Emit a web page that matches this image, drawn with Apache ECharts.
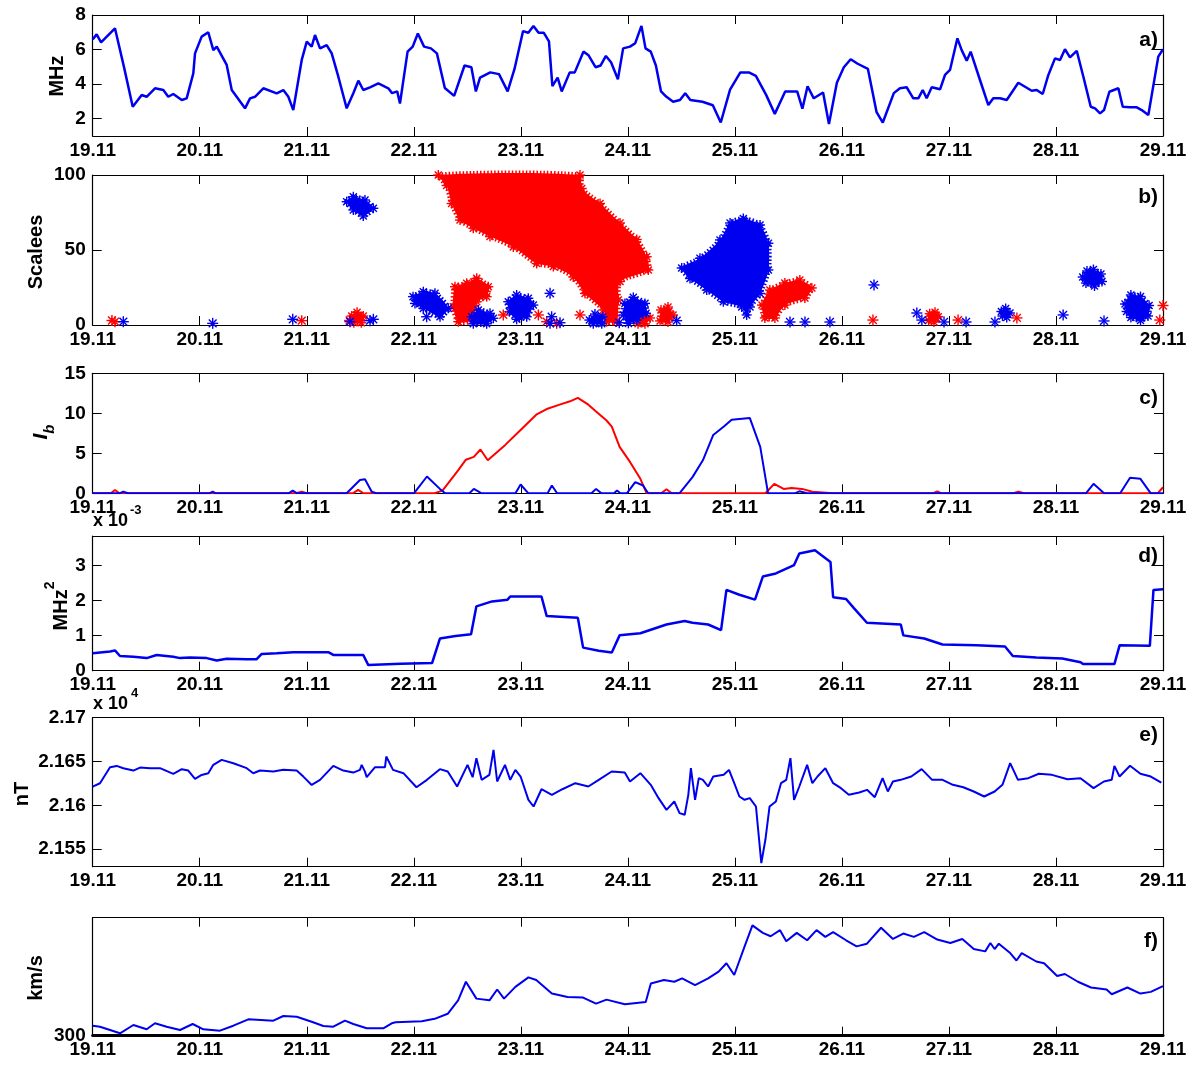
<!DOCTYPE html>
<html><head><meta charset="utf-8">
<script src="https://cdn.jsdelivr.net/npm/echarts@6/dist/echarts.min.js"></script>
<style>html,body{margin:0;padding:0;background:#fff}#c{width:1195px;height:1065px}</style>
</head><body><div id="c"></div>
<script>
// ---------- tick labels ----------
const dayLabels = ['19.11','20.11','21.11','22.11','23.11','24.11','25.11','26.11','27.11','28.11','29.11'];
const aTicks = [2,4,6,8];
const bTicks = [0,50,100];
const cTicks = [0,5,10,15];
const dTicks = [0,1,2,3];
const eTicks = [21550,21600,21650,21700];
const fTicks = [300];

// ---------- a) frequency (MHz), x = days after 19.11 ----------
const aFreq = [[0,6.59],[0.037,6.88],[0.078,6.42],[0.208,7.23],[0.292,5.0],[0.374,2.69],[0.458,3.37],[0.504,3.27],[0.582,3.76],[0.66,3.66],[0.706,3.27],[0.753,3.43],[0.832,3.08],[0.878,3.18],[0.94,4.62],[0.956,5.78],[1.018,6.75],[1.08,7.0],[1.127,5.97],[1.159,6.17],[1.252,5.11],[1.299,3.66],[1.345,3.27],[1.423,2.6],[1.47,3.18],[1.516,3.27],[1.594,3.76],[1.719,3.47],[1.781,3.66],[1.828,3.27],[1.874,2.5],[1.953,5.4],[2.0,6.46],[2.046,6.17],[2.077,6.84],[2.124,6.07],[2.186,6.26],[2.233,5.78],[2.295,4.43],[2.373,2.6],[2.435,3.47],[2.482,4.2],[2.528,3.66],[2.591,3.81],[2.669,4.04],[2.762,3.76],[2.797,3.48],[2.845,3.58],[2.871,2.88],[2.942,5.88],[2.99,6.17],[3.038,6.93],[3.096,6.17],[3.16,6.07],[3.216,5.78],[3.29,3.78],[3.377,3.32],[3.474,5.08],[3.538,4.98],[3.58,3.58],[3.619,4.38],[3.715,4.68],[3.796,4.58],[3.877,3.58],[3.941,4.88],[4.021,7.07],[4.07,6.97],[4.118,7.37],[4.166,6.97],[4.215,6.97],[4.263,6.47],[4.295,3.88],[4.344,4.38],[4.382,3.58],[4.457,4.68],[4.504,4.68],[4.585,5.88],[4.633,5.67],[4.698,4.98],[4.746,5.08],[4.795,5.63],[4.843,5.27],[4.907,4.28],[4.956,6.07],[5.02,6.17],[5.069,6.37],[5.127,7.37],[5.165,6.07],[5.214,5.88],[5.262,5.08],[5.31,3.58],[5.358,3.28],[5.423,2.98],[5.487,3.08],[5.536,3.48],[5.584,3.08],[5.697,2.98],[5.794,2.78],[5.868,1.78],[5.955,3.68],[6.051,4.68],[6.131,4.68],[6.196,4.48],[6.292,3.38],[6.373,2.28],[6.47,3.58],[6.582,3.58],[6.631,2.58],[6.679,3.88],[6.737,3.18],[6.824,3.52],[6.879,1.69],[6.953,4.08],[7.018,4.98],[7.082,5.44],[7.147,5.18],[7.243,4.88],[7.324,2.38],[7.382,1.78],[7.485,3.48],[7.542,3.76],[7.605,3.82],[7.667,3.18],[7.714,3.18],[7.755,3.66],[7.792,3.18],[7.839,3.82],[7.917,3.7],[7.963,4.53],[8.01,4.82],[8.079,6.65],[8.119,5.97],[8.166,5.36],[8.203,5.88],[8.29,4.24],[8.368,2.79],[8.414,3.18],[8.477,3.18],[8.54,3.08],[8.648,4.08],[8.711,3.85],[8.773,3.62],[8.82,3.66],[8.876,3.43],[8.929,4.53],[8.991,5.49],[9.038,5.4],[9.084,6.02],[9.131,5.55],[9.194,5.93],[9.256,4.43],[9.325,2.69],[9.365,2.6],[9.412,2.31],[9.449,2.5],[9.499,3.56],[9.583,3.76],[9.624,2.69],[9.692,2.66],[9.755,2.66],[9.801,2.5],[9.863,2.21],[9.956,5.59],[10,6.02]];

// ---------- b) scalogram regions (day, scale) ----------
const redBlobs = [
  [[3.229,100],[4.553,100],[4.569,91],[4.74,81],[4.927,68],[5.083,57],[5.176,45.5],[5.191,36.7],[4.927,29],[4.911,16.7],[4.896,2.2],[4.802,2.2],[4.771,10],[4.6,21],[4.49,32],[4.304,39],[4.148,41],[3.93,52],[3.712,59],[3.556,64.5],[3.432,70],[3.354,81],[3.307,93]],
  [[3.385,25.5],[3.494,27.8],[3.588,31.1],[3.696,25.5],[3.681,18.9],[3.588,15.5],[3.556,3.3],[3.416,2.2],[3.369,12.2]],
  [[6.253,13.3],[6.327,23.3],[6.467,28],[6.607,30],[6.719,24.7],[6.654,18],[6.467,13.3],[6.374,4.7],[6.28,4.7]],
  [[5.083,4.7],[5.142,7.3],[5.207,4.7],[5.16,0.8],[5.095,0.8]],
  [[5.31,10],[5.375,12],[5.422,6.7],[5.375,2],[5.301,2.7]],
  [[2.42,6],[2.47,8.5],[2.528,6],[2.51,1.5],[2.44,1.5]],
  [[7.82,7.5],[7.87,8.5],[7.9,5.5],[7.86,2],[7.81,3]]
];
const blueBlobs = [
  [[2.373,82.2],[2.435,85.5],[2.544,83.3],[2.622,77.8],[2.528,72.7],[2.435,76.7]],
  [[2.993,18.9],[3.089,22.2],[3.198,21.1],[3.322,11.1],[3.245,5.5],[3.089,11.1],[3.011,14.4]],
  [[3.541,5.5],[3.603,10],[3.712,7.8],[3.743,4.5],[3.681,0.8],[3.556,0.8]],
  [[3.883,15.5],[3.961,20],[4.07,17.8],[4.117,13.3],[4.055,5.5],[3.961,3.8],[3.893,8.9]],
  [[4.64,3.3],[4.693,7.3],[4.765,5.5],[4.756,0.8],[4.677,0.8]],
  [[4.973,14.4],[5.051,18.4],[5.16,14.4],[5.17,7.8],[5.083,3.3],[5.005,1.1],[4.958,6.7]],
  [[5.503,38],[5.674,44.5],[5.861,56.7],[5.955,68],[6.079,71],[6.235,66.7],[6.313,54.5],[6.313,36.7],[6.235,21],[6.141,12],[6.11,6.7],[6.064,12],[5.892,15.5],[5.737,23.3],[5.581,31]],
  [[9.25,32],[9.29,36],[9.35,37],[9.42,34],[9.43,29],[9.36,26],[9.28,28]],
  [[9.645,14],[9.7,20],[9.79,19],[9.87,13],[9.86,6],[9.79,3],[9.7,5],[9.66,9]],
  [[8.49,9],[8.53,11],[8.57,8],[8.54,5],[8.5,6]]
];
const redStars = [[0.18,3],[0.208,2.2],[1.953,2.9],[2.40,3],[3.836,6.7],[4.164,6.7],[4.242,2.2],[4.335,1.1],[4.553,6.7],[7.29,3.3],[7.88,5],[8.085,3.3],[8.635,4.7],[9.97,3.3],[10,13]];
const blueStars = [[0.286,2.2],[1.121,1.1],[1.869,3.8],[2.404,2.2],[2.591,2.9],[2.622,3.8],[3.12,5.5],[4.273,21.1],[4.288,5.5],[4.273,1.1],[4.366,1.5],[4.92,1.5],[5.456,2.9],[6.515,2],[6.655,2],[6.888,2],[7.3,26.7],[7.7,8],[7.747,3.3],[7.954,2],[8.16,2],[8.43,2],[9.067,6.7],[9.449,2.7]];

// ---------- c) I_b ----------
const cRed = [[0,0],[0.17,0],[0.208,0.42],[0.25,0],[1.9,0],[1.953,0.2],[2.0,0],[2.43,0],[2.48,0.42],[2.53,0],[3.195,0],[3.268,0.34],[3.414,2.86],[3.487,4.2],[3.561,4.55],[3.623,5.48],[3.691,4.13],[3.852,6.02],[3.998,7.92],[4.144,9.82],[4.242,10.53],[4.363,11.08],[4.46,11.5],[4.533,11.92],[4.631,11.08],[4.703,10.24],[4.801,9.1],[4.85,8.34],[4.923,5.81],[5.02,3.92],[5.117,1.81],[5.176,0],[5.312,0],[5.361,0.5],[5.41,0],[6.285,0],[6.368,1.18],[6.456,0.55],[6.529,0.67],[6.627,0.55],[6.724,0.2],[6.918,0],[7.85,0],[7.891,0.25],[7.93,0],[8.6,0],[8.65,0.2],[8.7,0],[9.95,0],[10,0.76]];
const cBlue = [[0,0],[0.25,0],[0.286,0.2],[0.33,0],[1.09,0],[1.121,0.2],[1.15,0],[1.83,0],[1.869,0.33],[1.91,0],[2.373,0],[2.497,1.67],[2.544,1.75],[2.607,0.2],[2.65,0],[3.001,0],[3.123,2.1],[3.244,0.55],[3.293,0],[3.52,0],[3.561,0.55],[3.634,0],[3.95,0],[3.998,1.1],[4.071,0],[4.25,0],[4.29,0.97],[4.339,0],[4.66,0],[4.703,0.55],[4.753,0],[4.87,0],[4.899,0.34],[4.93,0],[4.99,0],[5.069,1.39],[5.142,0.97],[5.19,0],[5.482,0],[5.604,2.02],[5.701,4.13],[5.798,7.29],[5.897,8.34],[5.97,9.18],[6.14,9.4],[6.237,5.81],[6.31,0],[6.56,0],[6.602,0.25],[6.675,0],[9.28,0],[9.351,1.18],[9.449,0],[9.6,0],[9.692,1.94],[9.789,1.81],[9.886,0],[10,0]];

// ---------- d) MHz^2 (x 10^-3) ----------
const dPower = [[0,0.5],[0.162,0.55],[0.208,0.58],[0.255,0.42],[0.38,0.40],[0.504,0.36],[0.598,0.45],[0.753,0.40],[0.816,0.36],[0.909,0.38],[1.065,0.36],[1.159,0.29],[1.252,0.34],[1.439,0.33],[1.532,0.33],[1.579,0.48],[1.719,0.5],[1.874,0.53],[2.201,0.53],[2.248,0.45],[2.528,0.45],[2.575,0.16],[2.879,0.2],[3.171,0.22],[3.244,0.92],[3.39,0.99],[3.535,1.04],[3.585,1.84],[3.731,1.98],[3.876,2.03],[3.901,2.12],[4.193,2.12],[4.242,1.56],[4.363,1.54],[4.533,1.51],[4.582,0.66],[4.728,0.57],[4.85,0.52],[4.923,1.01],[5.117,1.07],[5.361,1.32],[5.531,1.42],[5.604,1.37],[5.75,1.32],[5.871,1.16],[5.921,2.31],[6.042,2.17],[6.188,2.03],[6.261,2.69],[6.383,2.78],[6.553,3.02],[6.602,3.35],[6.748,3.44],[6.893,3.11],[6.918,2.1],[7.039,2.05],[7.112,1.79],[7.234,1.37],[7.55,1.32],[7.574,1.01],[7.769,0.92],[7.94,0.75],[8.257,0.73],[8.524,0.69],[8.597,0.42],[8.816,0.38],[9.059,0.35],[9.23,0.24],[9.253,0.19],[9.546,0.19],[9.595,0.73],[9.877,0.71],[9.911,2.31],[10,2.33]];

// ---------- e) nT ----------
const eField = [[0,21621.4],[0.068,21625.2],[0.162,21643.5],[0.224,21645],[0.286,21642.4],[0.38,21639.7],[0.442,21643.1],[0.535,21642.4],[0.629,21642.4],[0.753,21635.9],[0.832,21641.2],[0.893,21639.7],[0.956,21630.2],[1.018,21634.7],[1.08,21636.6],[1.127,21646.2],[1.205,21651.9],[1.314,21648.1],[1.439,21642.4],[1.5,21636.6],[1.563,21639.7],[1.688,21638.5],[1.781,21640.5],[1.906,21639.7],[1.968,21632.8],[2.046,21623.3],[2.124,21629],[2.248,21645],[2.341,21639.7],[2.435,21637.4],[2.497,21640.5],[2.513,21646.2],[2.544,21638.5],[2.56,21632.1],[2.638,21643.5],[2.731,21643.5],[2.743,21655.7],[2.806,21640.5],[2.903,21636.7],[3.025,21620.7],[3.123,21629.1],[3.244,21641.3],[3.317,21638.6],[3.405,21621.5],[3.502,21646.2],[3.55,21632.1],[3.585,21653.8],[3.634,21629.1],[3.706,21634.8],[3.745,21663.3],[3.779,21627.2],[3.852,21646.2],[3.901,21629.1],[3.949,21640.5],[3.998,21632.9],[4.071,21606.3],[4.119,21598.7],[4.193,21618.4],[4.29,21612],[4.388,21618.4],[4.509,21625.3],[4.631,21621.5],[4.728,21629.1],[4.849,21638.6],[4.971,21637.5],[5.02,21627.2],[5.117,21636.7],[5.214,21623.4],[5.287,21608.2],[5.361,21594.9],[5.434,21604.4],[5.483,21591.1],[5.531,21589.2],[5.565,21612],[5.589,21642.4],[5.628,21606.3],[5.663,21631],[5.701,21629.1],[5.75,21621.5],[5.798,21632.9],[5.896,21634.8],[5.945,21640.5],[5.994,21625.3],[6.042,21610.1],[6.091,21606.3],[6.139,21608.2],[6.197,21598.7],[6.247,21534],[6.285,21560.7],[6.324,21598.7],[6.383,21604.4],[6.431,21625.3],[6.48,21629.1],[6.519,21653.8],[6.553,21606.3],[6.602,21621.5],[6.675,21646.2],[6.724,21625.3],[6.772,21632.9],[6.845,21642.4],[6.918,21625.3],[6.991,21619.6],[7.065,21612],[7.162,21614.6],[7.235,21617.7],[7.307,21609.3],[7.38,21631],[7.429,21615.8],[7.477,21627.2],[7.55,21629.1],[7.648,21632.9],[7.745,21641.3],[7.843,21629.1],[7.94,21629.1],[8.037,21623.4],[8.134,21620.7],[8.232,21615.8],[8.329,21610.1],[8.427,21615.8],[8.5,21623.4],[8.572,21648.1],[8.645,21629.1],[8.742,21631],[8.84,21636],[8.962,21634.8],[9.108,21629.8],[9.229,21631],[9.351,21619.6],[9.448,21627.2],[9.521,21629.1],[9.546,21645.1],[9.594,21632.9],[9.692,21645.1],[9.789,21636],[9.886,21632.9],[9.984,21626]];

// ---------- f) km/s ----------
const fSpeed = [[0,333.9],[0.068,330.5],[0.162,319.3],[0.255,308.1],[0.38,336.3],[0.504,321.7],[0.582,342],[0.691,330.5],[0.816,319.3],[0.934,339.7],[1.034,321.7],[1.189,317],[1.314,333.9],[1.454,355.6],[1.688,350.9],[1.781,366.8],[1.906,364.4],[2.046,347.5],[2.155,332.9],[2.248,330.5],[2.357,350.9],[2.435,339.7],[2.56,325.1],[2.715,325.1],[2.794,342],[2.83,345.7],[3.074,349.1],[3.195,357.2],[3.317,374.3],[3.414,420],[3.487,482.9],[3.585,425.7],[3.707,420],[3.779,456.6],[3.843,425.7],[3.949,465.7],[4.071,497.7],[4.144,488.6],[4.29,442.9],[4.436,431.4],[4.582,429.2],[4.703,408.6],[4.801,422.3],[4.972,406.3],[5.167,414.3],[5.215,477.2],[5.337,488.6],[5.434,482.9],[5.507,494.3],[5.628,471.5],[5.75,494.3],[5.848,517.2],[5.921,545.7],[5.994,505.7],[6.091,602.9],[6.164,673.8],[6.261,648.6],[6.334,637.2],[6.422,657.8],[6.48,620],[6.578,648.6],[6.675,623.5],[6.763,657.8],[6.845,634.9],[6.918,650.9],[7.039,623.5],[7.137,602.9],[7.234,612],[7.366,665.8],[7.477,628],[7.574,646.3],[7.672,634.9],[7.769,650.9],[7.891,625.8],[8.013,614.3],[8.125,628],[8.232,593.8],[8.339,585.8],[8.387,614.3],[8.427,593.8],[8.466,612],[8.572,580],[8.631,554.9],[8.68,580],[8.816,551.5],[8.889,545.7],[9.011,502.3],[9.083,509.2],[9.205,482.9],[9.327,463.4],[9.473,456.6],[9.521,440.6],[9.667,463.4],[9.789,442.9],[9.886,448.6],[10,468]];

// ---------- layout & styling ----------
const FONT = "'Liberation Sans', Arial, Helvetica, sans-serif";
const BLUE = '#0000f0', RED = '#ff0000';
const panels = [
  {top:15,    h:121,   min:1,     max:8,     ticks:aTicks},
  {top:175,   h:150,   min:0,     max:100,   ticks:bTicks},
  {top:373.3, h:120,   min:0,     max:15,    ticks:cTicks},
  {top:536,   h:134.7, min:0,     max:3.85,  ticks:dTicks},
  {top:717.7, h:149,   min:21530, max:21700, ticks:eTicks, fmt:v=>String(parseFloat((v/10000).toFixed(4)))},
  {top:917.7, h:118,   min:300,   max:700,   ticks:fTicks}
];
const labelStyle = {color:'#000', fontSize:19, fontWeight:'bold', fontFamily:FONT};
const grid = [], xAxis = [], yAxis = [];
panels.forEach((p,i)=>{
  grid.push({left:92.7, right:32, top:p.top, height:p.h, outerBoundsMode:'none', containLabel:false});
  const line = w => ({show:true, onZero:false, lineStyle:{color:'#000', width:w}});
  const tick = {show:true, inside:true, length:9, lineStyle:{color:'#000', width:1}};
  xAxis.push({type:'value', gridIndex:i, position:'bottom', min:0, max:10, interval:1,
    axisLine:line(i===5?3:1.2), axisTick:tick, splitLine:{show:false},
    axisLabel:Object.assign({margin:5, formatter:v=>dayLabels[Math.round(v)]}, labelStyle)});
  xAxis.push({type:'value', gridIndex:i, position:'top', min:0, max:10, interval:1,
    axisLine:line(1.2), axisTick:tick, splitLine:{show:false}, axisLabel:{show:false}});
  yAxis.push({type:'value', gridIndex:i, position:'left', min:p.min, max:p.max,
    axisLine:line(1.2), axisTick:Object.assign({customValues:p.ticks}, tick), splitLine:{show:false},
    axisLabel:Object.assign({margin:7, customValues:p.ticks, formatter:p.fmt||(v=>String(v))}, labelStyle)});
  yAxis.push({type:'value', gridIndex:i, position:'right', min:p.min, max:p.max,
    axisLine:line(1.2), axisTick:Object.assign({customValues:p.ticks}, tick), splitLine:{show:false},
    axisLabel:{show:false}});
});

function lineSeries(idx, data, color, width){
  return {type:'line', xAxisIndex:idx*2, yAxisIndex:idx*2, data:data, showSymbol:false, symbol:'none',
    lineStyle:{color:color, width:width}, itemStyle:{color:color}, animation:false, z:3};
}
function asterisk(c, color, r){
  const dirs = [[1,0],[0,1],[0.707,0.707],[0.707,-0.707]];
  return {type:'group', children: dirs.map(([dx,dy])=>({type:'line',
    shape:{x1:c[0]-r*dx, y1:c[1]-r*dy, x2:c[0]+r*dx, y2:c[1]+r*dy},
    style:{stroke:color, lineWidth:1.4}}))};
}
function blobSeries(blobs, color){
  return {type:'custom', xAxisIndex:2, yAxisIndex:2, animation:false, z:2,
    data: blobs.map((b,i)=>[b[0][0], b[0][1], i]), encode:{x:0, y:1},
    renderItem:(params, api)=>{
      const blob = blobs[api.value(2)];
      const pts = blob.map(p=>api.coord(p));
      const children = [{type:'polygon', shape:{points:pts, smooth:0.25},
        style:{fill:color, stroke:color, lineWidth:5, lineDash:[1.5,2]}}];
      pts.forEach(c=>children.push(asterisk(c, color, 5)));
      return {type:'group', children};
    }};
}
function starSeries(stars, color){
  return {type:'custom', xAxisIndex:2, yAxisIndex:2, animation:false, z:3,
    data: stars, encode:{x:0, y:1},
    renderItem:(params, api)=>asterisk(api.coord([api.value(0), api.value(1)]), color, 5.5)};
}

const bold20 = {fontSize:20, fontWeight:'bold', fontFamily:FONT, fill:'#000'};
function vtext(x, y, text, rich){
  return {type:'text', x:x, y:y, rotation:Math.PI/2, z:10,
    style:Object.assign({text:text, align:'center', verticalAlign:'middle', rich:rich}, bold20)};
}
function ptext(x, y, text, size, align){
  return {type:'text', x:x, y:y, z:10, style:{text:text, fontSize:size, fontWeight:'bold', fontFamily:FONT,
    fill:'#000', align:align||'left', verticalAlign:'middle'}};
}
const graphic = [
  vtext(57, 76, 'MHz'),
  vtext(36, 252, 'Scalees'),
  vtext(44, 432, '{i|I}{b|b}', {
    i:{fontSize:21, fontWeight:'bold', fontStyle:'italic', fontFamily:FONT, lineHeight:26, verticalAlign:'top'},
    b:{fontSize:15, fontWeight:'bold', fontStyle:'italic', fontFamily:FONT, lineHeight:26, verticalAlign:'bottom'}}),
  vtext(57, 606, '{m|MHz}{s|2}', {
    m:{fontSize:20, fontWeight:'bold', fontFamily:FONT, lineHeight:28, verticalAlign:'bottom'},
    s:{fontSize:14, fontWeight:'bold', fontFamily:FONT, lineHeight:28, verticalAlign:'top'}}),
  vtext(22, 794, 'nT'),
  vtext(36, 978, 'km/s'),
  ptext(93, 521, 'x 10', 18), ptext(130, 510, '-3', 13),
  ptext(93, 704, 'x 10', 18), ptext(131, 693, '4', 13),
  ptext(1158, 40, 'a)', 21, 'right'),
  ptext(1158, 197, 'b)', 21, 'right'),
  ptext(1158, 398, 'c)', 21, 'right'),
  ptext(1158, 556, 'd)', 21, 'right'),
  ptext(1158, 735, 'e)', 21, 'right'),
  ptext(1158, 941, 'f)', 21, 'right')
];

const option = {
  animation:false, backgroundColor:'#fff',
  grid, xAxis, yAxis, graphic,
  series:[
    lineSeries(0, aFreq, BLUE, 2.5),
    blobSeries(redBlobs, RED),
    blobSeries(blueBlobs, BLUE),
    starSeries(redStars, RED),
    starSeries(blueStars, BLUE),
    lineSeries(2, cRed, RED, 2),
    lineSeries(2, cBlue, BLUE, 2),
    lineSeries(3, dPower, BLUE, 2.5),
    lineSeries(4, eField, BLUE, 2),
    lineSeries(5, fSpeed, BLUE, 2)
  ]
};
const chart = echarts.init(document.getElementById('c'), null, {renderer:'canvas'});
chart.setOption(option);
</script></body></html>
